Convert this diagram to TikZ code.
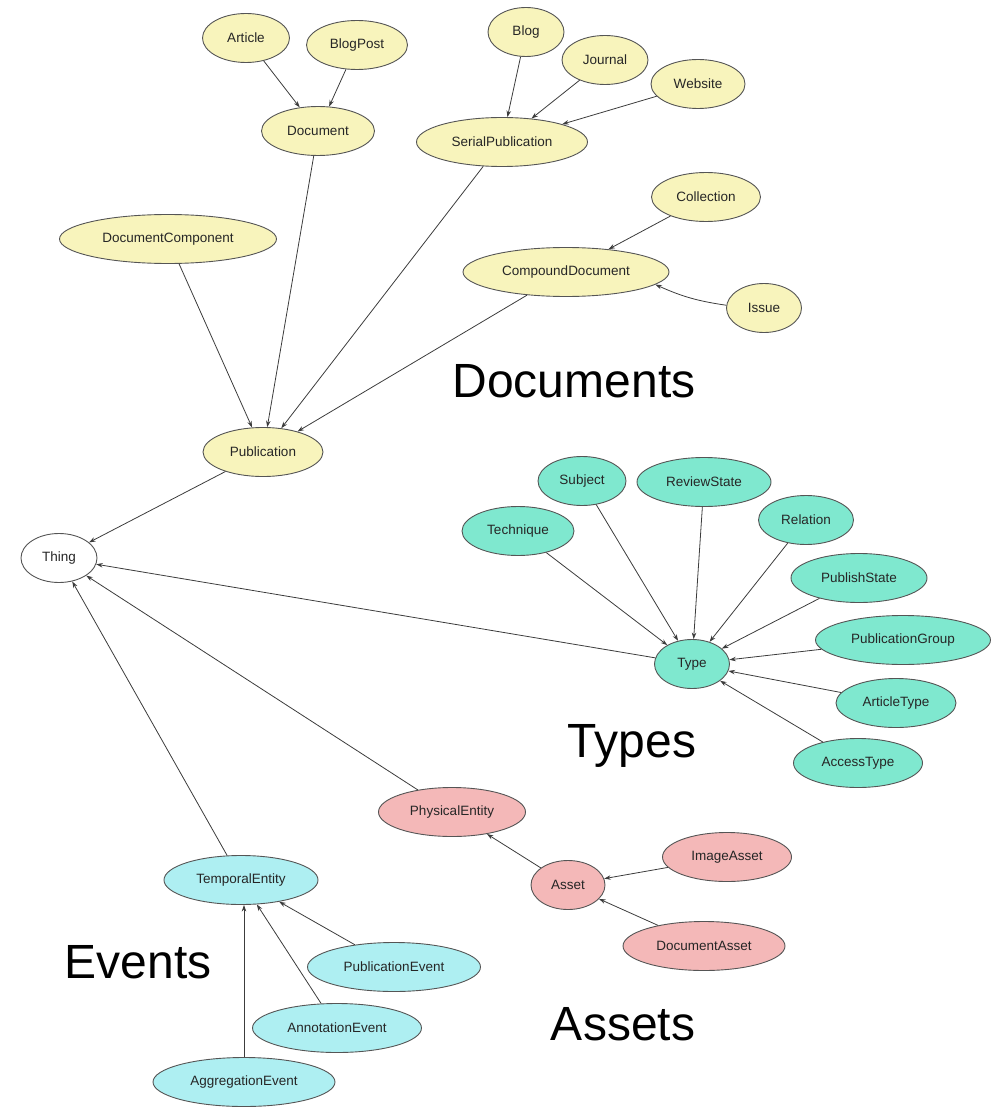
\documentclass[tikz,border=0pt]{standalone}
\usepackage{fontspec}
\setmainfont{Liberation Sans}
\usetikzlibrary{shapes.geometric,arrows.meta}
\definecolor{docfill}{HTML}{F8F4BC}
\definecolor{typefill}{HTML}{7FE8CF}
\definecolor{evfill}{HTML}{AEEFF2}
\definecolor{assetfill}{HTML}{F4B8B8}
\definecolor{edgecol}{HTML}{3C3C3C}
\definecolor{bordercol}{HTML}{555555}
\tikzset{
  cls/.style={ellipse, draw=bordercol, line width=0.9pt, inner sep=0pt, minimum height=49pt,
    font=\fontsize{13.5}{15}\selectfont, text=black!85},
  doc/.style={cls, fill=docfill},
  typ/.style={cls, fill=typefill},
  ev/.style={cls, fill=evfill},
  ast/.style={cls, fill=assetfill},
  root/.style={cls, fill=white},
  grp/.style={font=\fontsize{48}{52}\selectfont, anchor=base, inner sep=0pt},
  isa/.style={draw=edgecol, line width=0.8pt, -{Stealth[length=6.5pt,width=4.5pt]}}
}
\begin{document}
\begin{tikzpicture}[x=1pt,y=-1pt]
\useasboundingbox (0,0) rectangle (993,1107);
% Documents
\node[doc, minimum width=87pt] (article) at (246,38) {Article};
\node[doc, minimum width=101pt] (blogpost) at (357,45) {BlogPost};
\node[doc, minimum width=113pt] (document) at (318,131) {Document};
\node[doc, minimum width=76pt] (blog) at (526,32) {Blog};
\node[doc, minimum width=86pt] (journal) at (605,60) {Journal};
\node[doc, minimum width=94pt] (website) at (698,84) {Website};
\node[doc, minimum width=171pt] (serial) at (502,142) {SerialPublication};
\node[doc, minimum width=109pt] (collection) at (706,197) {Collection};
\node[doc, minimum width=206pt] (compound) at (566,272) {CompoundDocument};
\node[doc, minimum width=75pt] (issue) at (764,308) {Issue};
\node[doc, minimum width=217pt] (doccomp) at (168,239) {DocumentComponent};
\node[doc, minimum width=120pt] (publication) at (263,452) {Publication};
\node[root, minimum width=76pt] (thing) at (59,558) {Thing};
% Types
\node[typ, minimum width=88pt] (subject) at (582,481) {Subject};
\node[typ, minimum width=134pt] (review) at (704,482) {ReviewState};
\node[typ, minimum width=112pt] (technique) at (518,531) {Technique};
\node[typ, minimum width=95pt] (relation) at (806,520) {Relation};
\node[typ, minimum width=136pt] (publish) at (859,578) {PublishState};
\node[typ, minimum width=175pt] (pubgroup) at (903,640) {PublicationGroup};
\node[typ, minimum width=75pt] (type) at (692,664) {Type};
\node[typ, minimum width=120pt] (articletype) at (896,703) {ArticleType};
\node[typ, minimum width=129pt] (accesstype) at (858,763) {AccessType};
% Assets
\node[ast, minimum width=147pt] (physical) at (452,812) {PhysicalEntity};
\node[ast, minimum width=74pt] (asset) at (568,885) {Asset};
\node[ast, minimum width=129pt] (imageasset) at (727,857) {ImageAsset};
\node[ast, minimum width=162pt] (docasset) at (704,946) {DocumentAsset};
% Events
\node[ev, minimum width=154pt] (temporal) at (241,880) {TemporalEntity};
\node[ev, minimum width=173pt] (pubevent) at (394,967) {PublicationEvent};
\node[ev, minimum width=169pt] (annevent) at (337,1028) {AnnotationEvent};
\node[ev, minimum width=182pt] (aggevent) at (244,1082) {AggregationEvent};
% group labels
\node[grp] (lbldocs) at (574,397) {Documents};
\node[grp] (lbltypes) at (632,757) {Types};
\node[grp] (lblevents) at (138,978) {Events};
\node[grp] (lblassets) at (623,1040) {Assets};
% edges
\draw[isa] (article) -- (document);
\draw[isa] (blogpost) -- (document);
\draw[isa] (blog) -- (serial);
\draw[isa] (journal) -- (serial);
\draw[isa] (website) -- (serial);
\draw[isa] (collection) -- (compound);
\draw[isa] (issue) to[bend left=8] (compound.-8);
\draw[isa] (doccomp) -- (publication);
\draw[isa] (document) -- (publication);
\draw[isa] (serial) -- (publication);
\draw[isa] (compound) -- (publication);
\draw[isa] (publication) -- (thing);
\draw[isa] (type) -- (thing);
\draw[isa] (physical) -- (thing);
\draw[isa] (temporal) -- (thing);
\foreach \t in {technique,subject,review,relation,publish,pubgroup,articletype,accesstype}
  \draw[isa] (\t) -- (type);
\draw[isa] (asset) -- (physical);
\draw[isa] (imageasset) -- (asset);
\draw[isa] (docasset) -- (asset);
\draw[isa] (pubevent) -- (temporal);
\draw[isa] (annevent) -- (temporal);
\draw[isa] (aggevent.north) -- (aggevent.north |- temporal.south);
\end{tikzpicture}
\end{document}
